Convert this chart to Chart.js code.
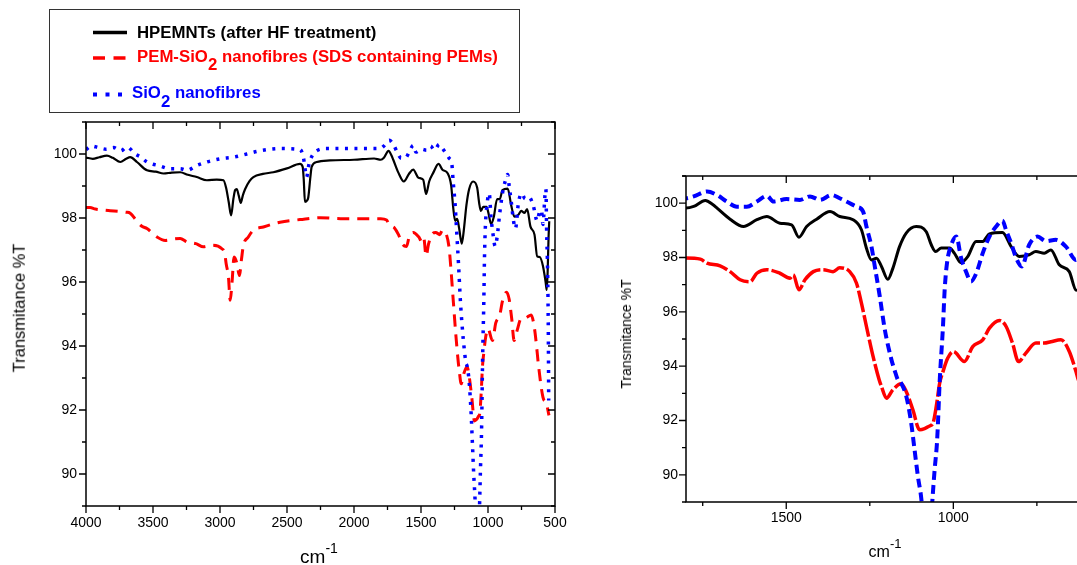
<!DOCTYPE html>
<html><head><meta charset="utf-8">
<script src="https://cdn.jsdelivr.net/npm/chart.js@4"></script>
<style>
html,body{margin:0;padding:0;width:1077px;height:565px;overflow:hidden;background:#fff;font-family:"Liberation Sans",Arial,sans-serif;color:#000;}
.abs{position:absolute;white-space:nowrap;line-height:1;}
#cL{position:absolute;left:0;top:0;}
#cR{position:absolute;left:600px;top:150px;}
.leg{font-weight:bold;font-size:16.8px;}
.sub{position:relative;top:8.5px;}
.sup{position:relative;}
</style></head><body>
<canvas id="cL" width="580" height="565"></canvas>
<canvas id="cR" width="500" height="415"></canvas>

<div class="abs" style="left:49px;top:9px;width:469px;height:102px;border:1px solid #333;"></div>
<svg class="abs" style="left:90px;top:26px" width="42" height="80">
  <line x1="3" y1="6.5" x2="37" y2="6.5" stroke="#000" stroke-width="3.5"/>
  <line x1="3" y1="32" x2="36" y2="32" stroke="#ff0000" stroke-width="3.5" stroke-dasharray="12,8.5"/>
  <line x1="3" y1="68.5" x2="34" y2="68.5" stroke="#0000ff" stroke-width="4" stroke-dasharray="4,8.5"/>
</svg>
<div class="abs leg" style="left:137px;top:25.3px;color:#000">HPEMNTs (after HF treatment)</div>
<div class="abs leg" style="left:137px;top:48.5px;color:#ff0000">PEM-SiO<span class="sub">2</span> nanofibres (SDS containing PEMs)</div>
<div class="abs leg" style="left:132px;top:85px;color:#0000ff">SiO<span class="sub">2</span> nanofibres</div>

<div class="abs" style="left:19px;top:307.5px;font-size:16.5px;transform:translate(-50%,-50%) rotate(-90deg)">Transmitance %T</div>
<div class="abs" style="left:626px;top:333.5px;font-size:14px;transform:translate(-50%,-50%) rotate(-90deg)">Transmitance %T</div>
<div class="abs" style="left:319px;top:547px;font-size:19px;transform:translateX(-50%)">cm<span class="sup" style="font-size:14px;top:-10px">-1</span></div>
<div class="abs" style="left:885px;top:543.5px;font-size:16px;transform:translateX(-50%)">cm<span class="sup" style="font-size:13px;top:-9px">-1</span></div>

<script>
// ---------- data (wavenumber cm-1, transmittance %T) ----------
const wnHPEMNT = [4000,3950,3900,3844,3800,3744,3700,3670,3620,3545,3480,3421,3360,3297,3240,3173,3098,3024,2974,2955,2935,2917,2900,2887,2875,2860,2845,2830,2813,2780,2751,2680,2602,2500,2403,2383,2375,2366,2350,2341,2325,2316,2278,2179,2000,1850,1800,1777,1742,1720,1707,1668,1628,1588,1558,1519,1484,1462,1439,1409,1369,1340,1300,1275,1260,1245,1230,1215,1196,1181,1161,1141,1111,1081,1066,1053,1036,1011,997,977,957,932,912,892,853,827,803,773,753,728,708,683,653,633,614,590,570,562,555,548,543];
const tHPEMNT  = [99.89,99.85,99.9,99.95,99.88,99.75,99.85,99.9,99.75,99.49,99.45,99.39,99.42,99.43,99.35,99.28,99.18,99.2,99.18,98.95,98.5,98.08,98.6,98.87,98.9,98.7,98.47,98.7,98.9,99.15,99.28,99.38,99.43,99.55,99.69,99.6,99.2,98.5,98.55,98.65,99.3,99.6,99.75,99.8,99.82,99.86,99.82,99.88,100.1,99.95,99.82,99.41,99.14,99.39,99.51,99.26,99.2,98.75,99.14,99.41,99.69,99.51,99.39,99.02,98.34,97.91,97.97,97.67,97.2,97.6,98.4,98.9,99.14,98.95,98.47,98.22,98.35,98.35,98.16,97.81,98.03,98.59,98.59,98.87,98.92,98.4,98.04,98.1,98.22,98.16,98.28,97.73,97.48,96.8,96.78,96.5,96.0,95.75,96.3,97.4,97.9];

const wnPEMSiO2 = [4000,3970,3930,3869,3820,3744,3700,3670,3620,3583,3545,3471,3409,3350,3297,3247,3180,3124,3061,2986,2965,2954,2937,2924,2910,2895,2875,2855,2840,2825,2790,2751,2676,2552,2403,2254,2100,1950,1800,1757,1737,1698,1668,1638,1608,1588,1558,1519,1489,1479,1462,1444,1419,1390,1360,1340,1310,1290,1275,1260,1240,1222,1215,1200,1181,1156,1141,1121,1101,1086,1071,1061,1051,1041,1031,1017,1000,967,942,912,892,862,842,823,805,783,753,728,708,678,653,633,626,590,564,545];
const tPEMSiO2  = [98.33,98.33,98.28,98.25,98.23,98.2,98.18,98.15,97.9,97.74,97.67,97.41,97.3,97.34,97.36,97.25,97.2,97.1,97.15,97.04,96.9,96.57,96.16,95.43,96.0,96.78,96.6,96.2,96.7,97.15,97.4,97.62,97.72,97.87,97.95,98.01,97.98,97.98,97.98,97.94,97.79,97.69,97.48,97.18,97.11,97.42,97.55,97.42,97.24,97.36,96.81,97.18,97.48,97.55,97.48,97.62,97.48,97.06,96.32,95.46,94.35,93.5,93.25,92.82,93.13,93.35,93.07,92.39,91.66,91.7,91.8,91.9,92.52,93.37,93.8,94.29,94.54,94.17,94.72,94.97,95.4,95.68,95.46,94.85,94.17,94.48,94.85,94.85,94.9,94.97,94.54,93.8,93.5,92.4,92.2,91.83];

const wnSiO2 = [4000,3960,3906,3850,3794,3740,3694,3633,3590,3545,3500,3459,3372,3297,3247,3173,3098,2999,2900,2800,2701,2552,2403,2378,2360,2353,2340,2328,2279,2200,2000,1850,1800,1777,1737,1707,1678,1648,1618,1588,1558,1538,1499,1459,1429,1399,1364,1340,1320,1290,1270,1260,1245,1235,1220,1205,1185,1176,1166,1156,1141,1126,1116,1106,1096,1088,1078,1068,1063,1056,1049,1046,1041,1031,1026,1019,1006,991,977,962,947,932,912,892,872,853,842,827,812,795,773,748,723,693,663,633,615,601,590,575,568,562,555,550,547];
const tSiO2  = [100.14,100.25,100.2,100.15,100.2,100.1,100.22,100.0,99.9,99.75,99.68,99.64,99.54,99.54,99.49,99.64,99.75,99.85,99.9,100.0,100.1,100.17,100.14,99.9,99.4,99.28,99.6,99.8,100.1,100.17,100.17,100.17,100.18,100.25,100.43,100.3,100.06,99.87,99.87,100.06,100.27,100.06,100.15,100.12,100.25,100.12,100.3,100.18,100.06,99.87,99.69,99.14,98.4,97.67,96.56,95.34,94.23,93.86,93.5,93.37,92.9,91.9,90.92,89.94,89.14,88.0,86.5,88.0,89.0,90.18,91.17,91.9,93.4,95.46,96.8,97.79,98.47,98.77,98.0,97.48,97.12,97.4,98.16,98.77,99.14,99.36,99.0,98.53,97.98,97.67,98.47,98.77,98.6,98.65,98.4,97.91,98.2,98.24,97.8,98.7,98.9,97.5,96.3,94.5,92.3];

const labels = ['HPEMNTs (after HF treatment)','PEM-SiO2 nanofibres (SDS containing PEMs)','SiO2 nanofibres'];

// tick labels
const leftXTicks  = [4000,3500,3000,2500,2000,1500,1000,500];
const leftYTicks  = [90,92,94,96,98,100];
const rightXTicks = [1500,1000];
const rightYTicks = [90,92,94,96,98,100];

const zip = (xs, ys) => xs.map((x, i) => ({x, y: ys[i]}));

Chart.defaults.font.family = '"Liberation Sans", Arial, sans-serif';
Chart.defaults.color = '#000';

const frameTicks = {
  id: 'frameTicks',
  afterDatasetsDraw(chart, args, o) {
    const {ctx, chartArea: a, scales: {x, y}} = chart;
    ctx.save();
    ctx.strokeStyle = '#000';
    ctx.lineWidth = o.lw;
    ctx.lineCap = 'square';
    ctx.beginPath();
    ctx.moveTo(a.left, a.top); ctx.lineTo(a.left, a.bottom); ctx.lineTo(a.right, a.bottom);
    ctx.moveTo(a.left - (o.topExt || 0), a.top); ctx.lineTo(a.right, a.top);
    if (o.right) { ctx.moveTo(a.right, a.top); ctx.lineTo(a.right, a.bottom); }
    ctx.stroke();
    ctx.lineCap = 'butt';
    ctx.lineWidth = o.tw;
    ctx.beginPath();
    for (let v = Math.ceil(x.min / 250) * 250; v <= x.max; v += 250) {
      const px = x.getPixelForValue(v);
      const L = v % 500 === 0 ? 7 : 4;
      ctx.moveTo(px, a.bottom); ctx.lineTo(px, a.bottom + L);
      ctx.moveTo(px, a.top); ctx.lineTo(px, a.top + L);
    }
    for (let v = Math.ceil(y.min); v <= y.max; v++) {
      const py = y.getPixelForValue(v);
      const L = v % 2 === 0 ? 7 : 4;
      ctx.moveTo(a.left, py); ctx.lineTo(a.left - L, py);
      if (o.right) { ctx.moveTo(a.right, py); ctx.lineTo(a.right - L, py); }
    }
    ctx.stroke();
    ctx.restore();
  }
};

function makeChart(id, cfg) {
  const ds = (label, xs, ys, color, w, dash) => ({
    label, data: zip(xs, ys), showLine: true, borderColor: color, backgroundColor: color,
    borderWidth: w, borderDash: dash, borderCapStyle: 'butt', borderJoinStyle: 'round',
    pointRadius: 0, pointHoverRadius: 0, fill: false, cubicInterpolationMode: 'monotone', clip: 0
  });
  return new Chart(document.getElementById(id), {
    type: 'scatter',
    data: { datasets: [
      ds(labels[2], wnSiO2, tSiO2, '#0000ff', cfg.blueW, cfg.blueDash),
      ds(labels[0], wnHPEMNT, tHPEMNT, '#000000', cfg.blackW, []),
      ds(labels[1], wnPEMSiO2, tPEMSiO2, '#ff0000', cfg.redW, cfg.redDash)
    ]},
    options: {
      responsive: false, animation: false, devicePixelRatio: 1,
      events: [],
      layout: { padding: cfg.padding },
      plugins: { legend: { display: false }, tooltip: { enabled: false },
        frameTicks: { lw: 1.5, tw: 1.3, right: cfg.rightFrame, topExt: cfg.topExt } },
      scales: {
        x: {
          type: 'linear', reverse: true, min: cfg.xmin, max: cfg.xmax,
          afterBuildTicks: s => { s.ticks = cfg.xTicks.map(v => ({value: v})); },
          afterFit: s => { s.height = cfg.xH; },
          ticks: { autoSkip: false, maxRotation: 0, padding: cfg.xPad, font: { size: 14 }, color: '#000',
                   callback: v => String(v) },
          grid: { display: false, drawTicks: false }, border: { display: false }
        },
        y: {
          type: 'linear', min: 89, max: 101,
          afterBuildTicks: s => { s.ticks = cfg.yTicks.map(v => ({value: v})); },
          afterFit: s => { s.width = cfg.yW; },
          ticks: { padding: cfg.yPad, font: { size: 14 }, color: '#000', callback: v => String(v) },
          grid: { display: false, drawTicks: false }, border: { display: false }
        }
      }
    },
    plugins: [frameTicks]
  });
}

makeChart('cL', {
  xmin: 500, xmax: 4000, xTicks: leftXTicks, yTicks: leftYTicks,
  padding: { top: 122, right: 25, left: 0, bottom: 0 }, xH: 59, yW: 86, xPad: 9, yPad: 9,
  blueW: 3.5, blueDash: [3, 6.5], blackW: 2.2, redW: 3, redDash: [12, 8], rightFrame: true, topExt: 0
});
makeChart('cR', {
  xmin: 600, xmax: 1800, xTicks: rightXTicks, yTicks: rightYTicks,
  padding: { top: 26, right: 13, left: 0, bottom: 0 }, xH: 63, yW: 86, xPad: 8, yPad: 8,
  blueW: 4, blueDash: [9, 5], blackW: 3, redW: 3.5, redDash: [22, 3], rightFrame: false, topExt: 3
});
</script>
</body></html>
